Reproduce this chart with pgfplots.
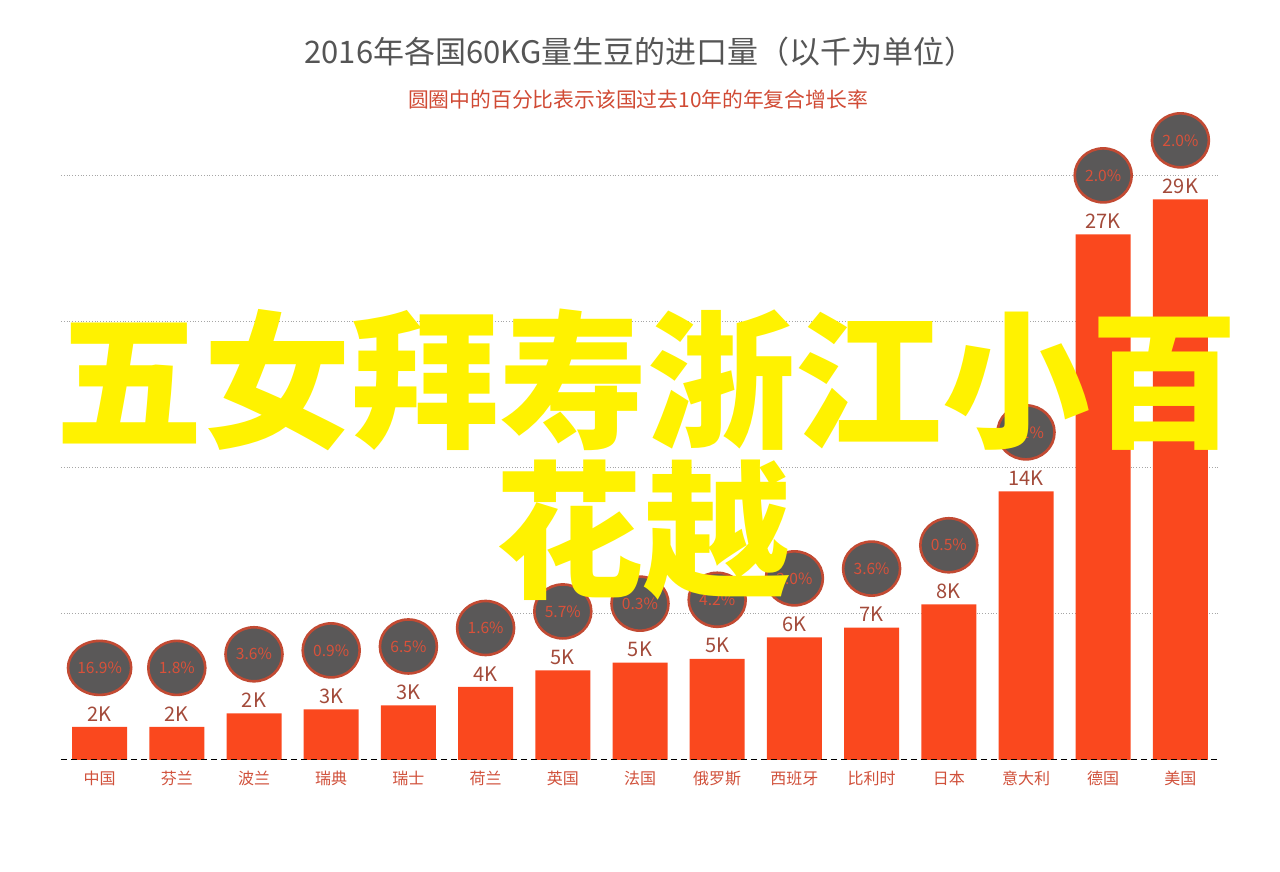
\documentclass[border=0pt]{standalone}
\usepackage{fontspec}
\setmainfont{Noto Sans CJK SC}
\usepackage{pgfplots}
\pgfplotsset{compat=1.18}
\usepackage{pgfplotstable}
\usetikzlibrary{shapes.geometric}

\definecolor{barred}{RGB}{250,72,30}
\definecolor{ringred}{RGB}{194,74,51}
\definecolor{pctred}{RGB}{217,81,58}
\definecolor{valred}{RGB}{163,74,58}
\definecolor{catred}{RGB}{208,80,58}
\definecolor{discgray}{RGB}{90,88,88}
\definecolor{titlegray}{RGB}{85,85,85}
\definecolor{subred}{RGB}{208,74,52}

% imports in thousands of 60kg bags, pct = 10-year CAGR
\pgfplotstableread{
x  y     pct
0  1.7   16.9
1  1.7   1.8
2  2.4   3.6
3  2.6   0.9
4  2.8   6.5
5  3.75  1.6
6  4.6   5.7
7  5.0   0.3
8  5.2   4.2
9  6.3   2.0
10 6.8   3.6
11 8.0   0.5
12 13.8  1.1
13 27.0  2.0
14 28.8  2.0
}\imports

\begin{document}
\begin{tikzpicture}
\path[use as bounding box] (0,0) rectangle (640pt,436pt);

\node[text=titlegray, font=\fontsize{15.5}{18}\selectfont] at (320pt,410pt)
  {2016年各国60KG量生豆的进口量（以千为单位）};
\node[text=subred, font=\fontsize{10.4}{12}\selectfont] at (319pt,386pt)
  {圆圈中的百分比表示该国过去10年的年复合增长率};

\begin{axis}[
  at={(30.5pt,56pt)}, anchor=south west,
  scale only axis,
  width=579pt, height=292pt,
  xmin=-0.5, xmax=14.5,
  ymin=0, ymax=30,
  clip=false,
  /pgf/number format/assume math mode=true,
  axis line style={draw=none},
  major tick length=0pt,
  ytick={7.5,15,22.5,30},
  yticklabels={},
  ymajorgrids,
  grid style={densely dotted, gray!70, line width=0.5pt},
  xtick=data,
  xticklabels={中国,芬兰,波兰,瑞典,瑞士,荷兰,英国,法国,俄罗斯,西班牙,比利时,日本,意大利,德国,美国},
  xticklabel style={text=catred, font=\fontsize{8}{10}\selectfont, yshift=-2pt},
]
\addplot[ybar, bar width=27.5pt, fill=barred, draw=none,
  point meta=y,
  nodes near coords={\pgfmathprintnumber[fixed,precision=0]{\pgfplotspointmeta}K},
  every node near coord/.append style={anchor=center, yshift=6.5pt,
    text=valred, font=\fontsize{10}{12}\selectfont}]
  table[x=x, y=y] {\imports};

\addplot[draw=none, mark=none,
  point meta=\thisrow{pct},
  nodes near coords={\pgfmathprintnumber[fixed,precision=1,zerofill]{\pgfplotspointmeta}\%},
  every node near coord/.append style={anchor=center, yshift=29.5pt,
    ellipse, fill=discgray, draw=ringred, line width=1.3pt,
    minimum width=28.5pt, minimum height=27pt, inner sep=0pt,
    text=pctred, font=\fontsize{7.8}{10}\selectfont}]
  table[x=x, y=y] {\imports};

\draw[black, densely dashed, line width=0.5pt]
  (rel axis cs:0,0) -- (rel axis cs:1,0);
\end{axis}

% overlaid watermark text
\node[text=yellow, font=\fontsize{74}{80}\selectfont\bfseries] at (323.5pt,246pt)
  {五女拜寿浙江小百};
\node[text=yellow, font=\fontsize{74}{80}\selectfont\bfseries] at (321.5pt,171pt)
  {花越};
\end{tikzpicture}
\end{document}
